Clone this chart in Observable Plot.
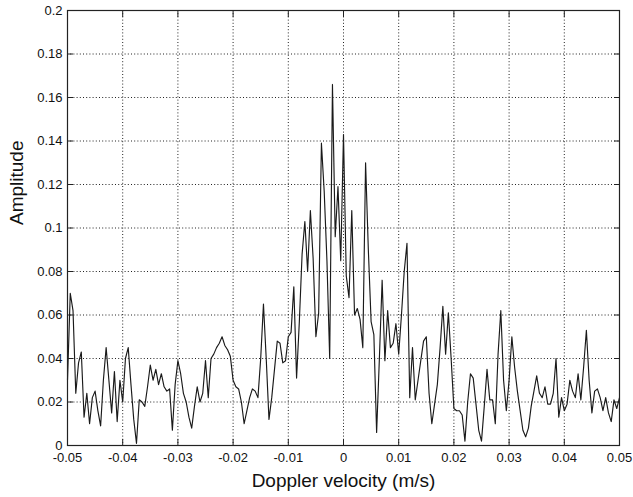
<!DOCTYPE html>
<html>
<head>
<meta charset="utf-8">
<script src="https://cdn.jsdelivr.net/npm/d3@7"></script>
<script src="https://cdn.jsdelivr.net/npm/@observablehq/plot@0.6"></script>
<style>
  html, body { margin: 0; padding: 0; background: #fff; }
  #chart { width: 633px; height: 497px; }
</style>
</head>
<body>
<div id="chart"></div>
<script>
// Tick values and labels
const xTicks = [-0.05, -0.04, -0.03, -0.02, -0.01, 0, 0.01, 0.02, 0.03, 0.04, 0.05];
const xTickLabels = ["-0.05", "-0.04", "-0.03", "-0.02", "-0.01", "0", "0.01", "0.02", "0.03", "0.04", "0.05"];
const yTicks = [0, 0.02, 0.04, 0.06, 0.08, 0.1, 0.12, 0.14, 0.16, 0.18, 0.2];
const yTickLabels = ["0", "0.02", "0.04", "0.06", "0.08", "0.1", "0.12", "0.14", "0.16", "0.18", "0.2"];

const xLabel = "Doppler velocity (m/s)";
const yLabel = "Amplitude";

// Velocity sampling (m/s): start and step of the evenly sampled spectrum
const velocityStart = -0.05;
const velocityStep = 0.0005;

// Amplitude values, one per velocity sample
const amplitude = [
  0.030, 0.070, 0.062, 0.024, 0.038, 0.043, 0.013, 0.024, 0.010, 0.022,
  0.025, 0.016, 0.009, 0.030, 0.045, 0.030, 0.015, 0.034, 0.011, 0.030,
  0.020, 0.040, 0.045, 0.028, 0.012, 0.001, 0.021, 0.020, 0.018, 0.027,
  0.037, 0.030, 0.035, 0.028, 0.033, 0.027, 0.025, 0.026, 0.007, 0.028,
  0.039, 0.033, 0.024, 0.020, 0.013, 0.008, 0.018, 0.027, 0.020, 0.024,
  0.039, 0.022, 0.040, 0.042, 0.045, 0.047, 0.050, 0.046, 0.044, 0.041,
  0.030, 0.027, 0.026, 0.020, 0.010, 0.016, 0.022, 0.026, 0.025, 0.022,
  0.040, 0.065, 0.040, 0.012, 0.022, 0.035, 0.048, 0.047, 0.038, 0.039,
  0.050, 0.052, 0.073, 0.031, 0.057, 0.088, 0.103, 0.080, 0.108, 0.086,
  0.050, 0.061, 0.139, 0.117, 0.085, 0.040, 0.166, 0.096, 0.119, 0.085,
  0.143, 0.078, 0.068, 0.108, 0.060, 0.063, 0.058, 0.045, 0.130, 0.090,
  0.057, 0.051, 0.006, 0.040, 0.076, 0.039, 0.062, 0.045, 0.047, 0.056,
  0.042, 0.060, 0.080, 0.093, 0.022, 0.045, 0.021, 0.030, 0.039, 0.048,
  0.050, 0.024, 0.010, 0.019, 0.028, 0.045, 0.064, 0.042, 0.061, 0.040,
  0.017, 0.016, 0.016, 0.014, 0.002, 0.020, 0.033, 0.031, 0.019, 0.007,
  0.002, 0.018, 0.035, 0.021, 0.021, 0.010, 0.042, 0.062, 0.030, 0.016,
  0.030, 0.050, 0.036, 0.025, 0.016, 0.007, 0.004, 0.008, 0.018, 0.025,
  0.032, 0.024, 0.022, 0.027, 0.019, 0.019, 0.024, 0.040, 0.013, 0.022,
  0.016, 0.019, 0.030, 0.025, 0.022, 0.033, 0.021, 0.036, 0.053, 0.030,
  0.015, 0.025, 0.026, 0.022, 0.016, 0.022, 0.015, 0.011, 0.021, 0.017,
  0.022
];

const data = amplitude.map((a, i) => ({v: velocityStart + i * velocityStep, a}));

const fmtX = d => xTickLabels[xTicks.findIndex(t => Math.abs(t - d) < 1e-9)];
const fmtY = d => yTickLabels[yTicks.findIndex(t => Math.abs(t - d) < 1e-9)];
const blank = () => "";
const inner = t => t.slice(1, -1);

const font = "'Liberation Sans', Arial, Helvetica, sans-serif";
const tickFont = 13;

const chart = Plot.plot({
  width: 633,
  height: 497,
  marginLeft: 67,
  marginRight: 14,
  marginTop: 10,
  marginBottom: 52,
  style: {fontFamily: font, fontSize: "13px", background: "#fff", color: "#000"},
  x: {domain: [-0.05, 0.05]},
  y: {domain: [0, 0.2]},
  marks: [
    Plot.gridX(inner(xTicks), {stroke: "#222", strokeOpacity: 1, strokeWidth: 1, strokeDasharray: "1,2.2"}),
    Plot.gridY(inner(yTicks), {stroke: "#222", strokeOpacity: 1, strokeWidth: 1, strokeDasharray: "1,2.2"}),
    Plot.line(data, {x: "v", y: "a", stroke: "#1a1a1a", strokeWidth: 1.15}),
    Plot.frame({stroke: "#222", strokeWidth: 1.2}),
    Plot.axisX(xTicks, {anchor: "bottom", tickSize: -6, tickFormat: blank, label: null, stroke: "#222"}),
    Plot.axisX(xTicks, {anchor: "top", tickSize: -6, tickFormat: blank, label: null, stroke: "#222"}),
    Plot.axisY(yTicks, {anchor: "left", tickSize: -6, tickFormat: blank, label: null, stroke: "#222"}),
    Plot.axisY(yTicks, {anchor: "right", tickSize: -6, tickFormat: blank, label: null, stroke: "#222"}),
    Plot.axisX(xTicks, {anchor: "bottom", tickSize: 0, tickPadding: 7.5, tickFormat: fmtX, label: null, fontSize: tickFont, fill: "#111"}),
    Plot.axisY(yTicks, {anchor: "left", tickSize: 0, tickPadding: 5, tickFormat: fmtY, label: null, fontSize: tickFont, fill: "#111"}),
    Plot.text([xLabel], {frameAnchor: "bottom", dy: 35, lineAnchor: "middle", fontSize: 19, fill: "#111", text: d => d}),
    Plot.text([yLabel], {frameAnchor: "left", dx: -51, dy: -3, rotate: -90, lineAnchor: "middle", fontSize: 19, fill: "#111", text: d => d})
  ]
});

document.getElementById("chart").appendChild(chart);
</script>
</body>
</html>
